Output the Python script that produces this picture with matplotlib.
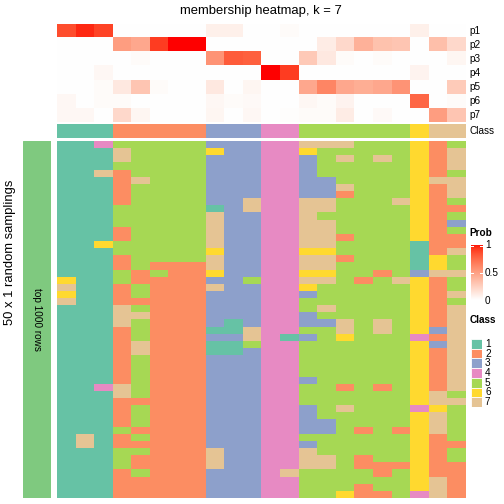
import numpy as np
import matplotlib
matplotlib.use("Agg")
import matplotlib.pyplot as plt
from matplotlib.colors import ListedColormap, LinearSegmentedColormap

plt.rcParams['font.family'] = ['Liberation Sans', 'DejaVu Sans']

# ---------------- data ----------------
title = "membership heatmap, k = 7"
prob_labels = ["p1", "p2", "p3", "p4", "p5", "p6", "p7"]
class_names = ["1", "2", "3", "4", "5", "6", "7"]
class_colors = ["#66C2A5", "#FC8D62", "#8DA0CB", "#E78AC3", "#A6D854", "#FFD92F", "#E5C494"]

p1 = [0.85, 0.95, 0.88, 0, 0, 0, 0, 0, 0.08, 0.08, 0, 0, 0.02, 0, 0, 0, 0, 0, 0, 0.08, 0, 0]
p2 = [0, 0, 0, 0.5, 0.45, 0.9, 1.0, 1.0, 0, 0, 0, 0, 0, 0, 0.1, 0.2, 0.4, 0.32, 0.3, 0, 0.33, 0.2]
p3 = [0, 0, 0, 0, 0.02, 0, 0, 0, 0.55, 0.8, 0.78, 0, 0, 0.28, 0.12, 0.02, 0, 0.02, 0, 0, 0, 0.05]
p4 = [0, 0, 0.04, 0, 0, 0, 0, 0, 0, 0, 0, 1.0, 0.9, 0, 0, 0, 0, 0, 0, 0.06, 0, 0]
p5 = [0, 0, 0.02, 0.12, 0.3, 0.02, 0, 0, 0.12, 0, 0.05, 0, 0, 0.45, 0.62, 0.45, 0.42, 0.45, 0.55, 0, 0, 0.27]
p6 = [0.04, 0, 0.02, 0.02, 0, 0, 0, 0, 0.04, 0.02, 0.03, 0, 0, 0.04, 0.02, 0.06, 0, 0, 0, 0.75, 0, 0.02]
p7 = [0.04, 0.04, 0, 0.2, 0.05, 0, 0, 0, 0.05, 0, 0.04, 0, 0.01, 0.02, 0.02, 0.1, 0, 0.03, 0, 0, 0.5, 0.3]

sample_class = [1, 1, 1, 2, 2, 2, 2, 2, 3, 3, 3, 4, 4, 5, 5, 5, 5, 5, 5, 6, 7, 7]

# one string per sampling row, 22 columns (spaces only group the columns by class)
membership_rows = [
    "114 55555 333 44 777555 6 25",
    "111 75555 633 44 655555 6 27",
    "111 75555 333 44 357575 6 27",
    "111 55555 333 44 355555 6 27",
    "117 25555 333 44 355555 6 25",
    "111 27555 333 44 335555 6 77",
    "111 25555 333 44 337555 6 27",
    "111 25555 333 44 332555 6 27",
    "111 25555 337 44 775557 6 25",
    "111 55555 137 44 775555 6 22",
    "111 55555 733 44 755555 6 25",
    "111 55555 733 44 775555 6 23",
    "111 25555 733 44 775555 6 25",
    "111 25555 733 44 772555 6 22",
    "116 55555 733 44 775555 1 22",
    "111 55555 633 44 665555 1 27",
    "111 25555 733 44 772555 1 65",
    "111 25222 733 44 775555 1 65",
    "111 52522 633 44 665525 3 77",
    "611 52222 335 44 775257 6 25",
    "711 25222 733 44 655555 6 25",
    "611 25222 333 44 355555 6 27",
    "711 22222 333 44 555555 6 25",
    "111 75222 333 44 575555 6 27",
    "111 77222 333 44 355555 6 27",
    "111 75222 313 44 337575 6 27",
    "111 25222 117 44 557575 6 37",
    "111 25222 337 41 356555 4 27",
    "111 27222 115 44 555555 6 37",
    "111 27222 113 44 555555 6 27",
    "111 25222 333 44 555555 6 27",
    "111 25222 333 44 555555 6 27",
    "111 25222 333 44 555555 6 27",
    "111 25222 333 44 355555 6 27",
    "114 75222 333 44 552525 6 27",
    "111 75222 333 44 555555 6 75",
    "111 22222 333 44 555555 6 77",
    "111 25222 333 44 357555 4 65",
    "111 25222 333 44 355555 6 75",
    "111 25222 333 44 335555 6 75",
    "111 52222 333 44 335252 6 75",
    "171 25222 333 44 555555 6 25",
    "171 22222 333 44 355555 6 22",
    "111 55222 733 44 755555 6 25",
    "111 52222 733 44 775255 6 25",
    "111 52222 733 44 775222 6 22",
    "111 25222 333 47 555525 6 22",
    "111 22222 333 44 555555 6 72",
    "111 22222 333 44 555255 6 72",
    "111 22222 333 44 556225 4 72",
]

row_title = "50 x 1 random samplings"
slice_title = "top 1000 rows"

# ---------------- helpers ----------------
def srgb_to_lab(rgb):
    rgb = np.asarray(rgb, float)
    lin = np.where(rgb <= 0.04045, rgb / 12.92, ((rgb + 0.055) / 1.055) ** 2.4)
    M = np.array([[0.4124, 0.3576, 0.1805], [0.2126, 0.7152, 0.0722], [0.0193, 0.1192, 0.9505]])
    xyz = M @ lin
    xyz = xyz / np.array([0.95047, 1.0, 1.08883])
    f = np.where(xyz > 0.008856, np.cbrt(xyz), 7.787 * xyz + 16 / 116)
    return np.array([116 * f[1] - 16, 500 * (f[0] - f[1]), 200 * (f[1] - f[2])])

def lab_to_srgb(lab):
    L, a, b = lab
    fy = (L + 16) / 116
    fx = fy + a / 500
    fz = fy - b / 200
    f = np.array([fx, fy, fz])
    xyz = np.where(f ** 3 > 0.008856, f ** 3, (f - 16 / 116) / 7.787)
    xyz = xyz * np.array([0.95047, 1.0, 1.08883])
    Minv = np.array([[3.2406, -1.5372, -0.4986], [-0.9689, 1.8758, 0.0415], [0.0557, -0.2040, 1.0570]])
    lin = Minv @ xyz
    lin = np.clip(lin, 0, 1)
    rgb = np.where(lin <= 0.0031308, 12.92 * lin, 1.055 * lin ** (1 / 2.4) - 0.055)
    return np.clip(rgb, 0, 1)

lw = srgb_to_lab([1, 1, 1])
lr = srgb_to_lab([1, 0, 0])
ramp = [lab_to_srgb(lw + (lr - lw) * t) for t in np.linspace(0, 1, 64)]
prob_cmap = LinearSegmentedColormap.from_list("wr", ramp)
class_cmap = ListedColormap(class_colors)

W = H = 504.0
fig = plt.figure(figsize=(7, 7), dpi=72)

def ax_px(x0, y0, x1, y1):
    a = fig.add_axes([x0 / W, 1 - y1 / H, (x1 - x0) / W, (y1 - y0) / H])
    a.set_axis_off()
    return a

X0, X1 = 56.7, 465.0

# top probability heatmap
probs = np.array([p1, p2, p3, p4, p5, p6, p7])
ax_p = ax_px(X0, 24.0, X1, 122.3)
ax_p.imshow(probs, cmap=prob_cmap, vmin=0, vmax=1, aspect='auto', interpolation='nearest')
for i, lab in enumerate(prob_labels):
    fig.text(469 / W, 1 - (24.0 + 14.04 * (i + 0.5)) / H, lab, fontsize=10, va='center', ha='left')

# class annotation row
ax_c = ax_px(X0, 124.0, X1, 137.7)
ax_c.imshow(np.array([sample_class]) - 1, cmap=class_cmap, vmin=-0.5, vmax=6.5, aspect='auto', interpolation='nearest')
fig.text(469 / W, 1 - 131.0 / H, "Class", fontsize=10, va='center', ha='left')

# main heatmap
mat = np.array([[int(c) for c in r.replace(" ", "")] for r in membership_rows])
ax_m = ax_px(X0, 141.0, X1, 497.6)
ax_m.imshow(mat - 1, cmap=class_cmap, vmin=-0.5, vmax=6.5, aspect='auto', interpolation='nearest')

# left slice bar
ax_s = ax_px(22.8, 141.0, 50.7, 497.6)
ax_s.add_patch(plt.Rectangle((0, 0), 1, 1, color="#7FC97F"))
ax_s.set_xlim(0, 1); ax_s.set_ylim(0, 1)
ax_s.text(0.5, 0.5, slice_title, rotation=270, ha='center', va='center', fontsize=10)

fig.text(10.5 / W, 1 - 252 / H, row_title, rotation=90, ha='center', va='center', fontsize=13)

# title
fig.text(261 / W, 1 - 11 / H, title, ha='center', va='center', fontsize=13)

# Prob legend
fig.text(469.5 / W, 1 - 233 / H, "Prob", fontsize=10, fontweight='bold', ha='left', va='center')
ax_cb = ax_px(470.5, 245.0, 482.5, 300.5)
grad = np.linspace(1, 0, 200).reshape(-1, 1)
ax_cb.imshow(grad, cmap=prob_cmap, vmin=0, vmax=1, aspect='auto', extent=[0, 1, 0, 1])
ax_cb.set_xlim(0, 1); ax_cb.set_ylim(0, 1)
for v in [0.5, 1.0]:
    yy = min(v, 0.985)
    ax_cb.plot([0, 0.2], [yy, yy], color='white', lw=1)
    ax_cb.plot([0.8, 1], [yy, yy], color='white', lw=1)
for v, lab in [(1.0, "1"), (0.5, "0.5"), (0.0, "0")]:
    fig.text(485 / W, 1 - (300.5 - v * 55.5) / H, lab, fontsize=10, ha='left', va='center')

# Class legend
fig.text(469.5 / W, 1 - 320 / H, "Class", fontsize=10, fontweight='bold', ha='left', va='center')
sq = 9.7
for i, (nm, col) in enumerate(zip(class_names, class_colors)):
    y0 = 339.0 + i * sq
    a = ax_px(470.7, y0, 481.7, y0 + sq)
    a.add_patch(plt.Rectangle((0.0, 0.0), 1, 1, facecolor=col, edgecolor='white', lw=0.8))
    a.set_xlim(0, 1); a.set_ylim(0, 1)
    fig.text(485 / W, 1 - (y0 + sq / 2) / H, nm, fontsize=10, ha='left', va='center')

fig.savefig("out.png", dpi=72)
